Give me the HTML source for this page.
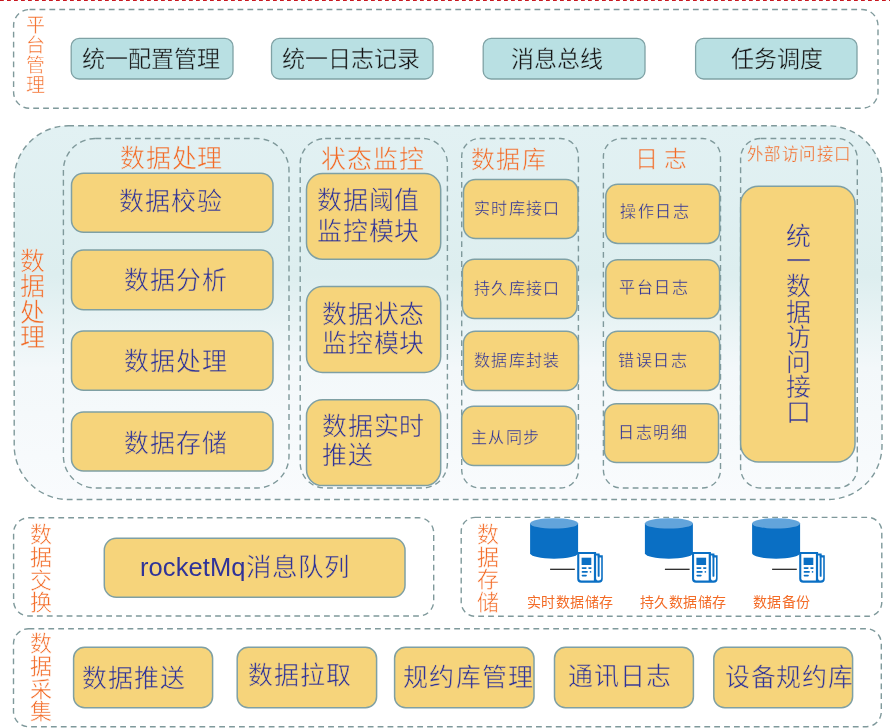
<!DOCTYPE html>
<html lang="zh-CN"><head><meta charset="utf-8"><title>architecture</title>
<style>
html,body{margin:0;padding:0;background:#fff;}
body{width:890px;height:728px;position:relative;overflow:hidden;font-family:"Liberation Sans",sans-serif;}
svg{position:absolute;left:0;top:0;}
.t{position:absolute;white-space:nowrap;will-change:transform;}
.v{text-align:center;}
</style></head><body>
<svg width="890" height="728" viewBox="0 0 890 728">
<defs><linearGradient id="g1" x1="0" y1="0" x2="0" y2="1">
<stop offset="0" stop-color="#e2f1f3"/><stop offset="0.4" stop-color="#ddeeef"/><stop offset="0.65" stop-color="#f3f8fa"/><stop offset="1" stop-color="#f9fbfd"/></linearGradient></defs>
<line x1="0" y1="0.55" x2="890" y2="0.55" stroke="#c8161f" stroke-width="1.1" stroke-dasharray="3.8 3.2"/>
<rect x="13.6" y="9.5" width="864.4" height="98.8" rx="16" fill="none" stroke="#7f999b" stroke-width="1.4" stroke-dasharray="5.8 4.1"/>
<rect x="71.2" y="38.4" width="161.8" height="40.6" rx="8" fill="#b9e0e3" stroke="#7fa2a5" stroke-width="1.3"/>
<rect x="271.5" y="38.4" width="161.5" height="40.6" rx="8" fill="#b9e0e3" stroke="#7fa2a5" stroke-width="1.3"/>
<rect x="483.2" y="38.4" width="161.8" height="40.6" rx="8" fill="#b9e0e3" stroke="#7fa2a5" stroke-width="1.3"/>
<rect x="695.6" y="38.4" width="161.39999999999998" height="40.6" rx="8" fill="#b9e0e3" stroke="#7fa2a5" stroke-width="1.3"/>
<rect x="14.2" y="125.8" width="867.8" height="373.7" rx="54" fill="url(#g1)" stroke="#7f999b" stroke-width="1.4" stroke-dasharray="5.8 4.1"/>
<rect x="63.4" y="138.5" width="225.6" height="349.5" rx="32" fill="none" stroke="#7f999b" stroke-width="1.4" stroke-dasharray="5.8 4.1"/>
<rect x="300.2" y="138.5" width="147.2" height="349.5" rx="25" fill="none" stroke="#7f999b" stroke-width="1.4" stroke-dasharray="5.8 4.1"/>
<rect x="461.7" y="138.5" width="116.69999999999999" height="349.5" rx="18" fill="none" stroke="#7f999b" stroke-width="1.4" stroke-dasharray="5.8 4.1"/>
<rect x="603.4" y="138.5" width="117.10000000000002" height="349.5" rx="18" fill="none" stroke="#7f999b" stroke-width="1.4" stroke-dasharray="5.8 4.1"/>
<rect x="740.6" y="138.5" width="116.69999999999993" height="349.5" rx="20" fill="none" stroke="#7f999b" stroke-width="1.4" stroke-dasharray="5.8 4.1"/>
<rect x="71.5" y="173.3" width="201.5" height="59.0" rx="12" fill="#f6d47b" stroke="#7fa0a4" stroke-width="1.5"/>
<rect x="71.5" y="250.1" width="201.5" height="59.70000000000002" rx="12" fill="#f6d47b" stroke="#7fa0a4" stroke-width="1.5"/>
<rect x="71.5" y="331" width="201.5" height="59.19999999999999" rx="12" fill="#f6d47b" stroke="#7fa0a4" stroke-width="1.5"/>
<rect x="71.5" y="412" width="201.5" height="59" rx="12" fill="#f6d47b" stroke="#7fa0a4" stroke-width="1.5"/>
<rect x="306.5" y="173.5" width="134.2" height="85.80000000000001" rx="16" fill="#f6d47b" stroke="#7fa0a4" stroke-width="1.5"/>
<rect x="306.5" y="286.5" width="134.2" height="85.89999999999998" rx="16" fill="#f6d47b" stroke="#7fa0a4" stroke-width="1.5"/>
<rect x="306.5" y="399.8" width="134.2" height="85.80000000000001" rx="16" fill="#f6d47b" stroke="#7fa0a4" stroke-width="1.5"/>
<rect x="463.5" y="179.6" width="114.5" height="59.0" rx="12" fill="#f6d47b" stroke="#7fa0a4" stroke-width="1.5"/>
<rect x="462.4" y="259.2" width="114.60000000000002" height="59.400000000000034" rx="12" fill="#f6d47b" stroke="#7fa0a4" stroke-width="1.5"/>
<rect x="463.4" y="331.3" width="115.0" height="59.19999999999999" rx="12" fill="#f6d47b" stroke="#7fa0a4" stroke-width="1.5"/>
<rect x="461.7" y="406.3" width="114.40000000000003" height="59.19999999999999" rx="12" fill="#f6d47b" stroke="#7fa0a4" stroke-width="1.5"/>
<rect x="605.8" y="184.2" width="113.80000000000007" height="59.20000000000002" rx="12" fill="#f6d47b" stroke="#7fa0a4" stroke-width="1.5"/>
<rect x="605.8" y="259.7" width="113.80000000000007" height="58.900000000000034" rx="12" fill="#f6d47b" stroke="#7fa0a4" stroke-width="1.5"/>
<rect x="605.8" y="331.3" width="113.80000000000007" height="59.099999999999966" rx="12" fill="#f6d47b" stroke="#7fa0a4" stroke-width="1.5"/>
<rect x="604.4" y="403.8" width="114.10000000000002" height="58.69999999999999" rx="12" fill="#f6d47b" stroke="#7fa0a4" stroke-width="1.5"/>
<rect x="740.6" y="186.3" width="114.39999999999998" height="275.7" rx="18" fill="#f6d47b" stroke="#7fa0a4" stroke-width="1.5"/>
<rect x="13.6" y="517.8" width="420.09999999999997" height="98.20000000000005" rx="15" fill="none" stroke="#7f999b" stroke-width="1.4" stroke-dasharray="5.8 4.1"/>
<rect x="104.3" y="538.3" width="300.7" height="58.90000000000009" rx="12" fill="#f6d47b" stroke="#7fa0a4" stroke-width="1.5"/>
<rect x="461.2" y="517.4" width="420.59999999999997" height="98.89999999999998" rx="14" fill="none" stroke="#7f999b" stroke-width="1.4" stroke-dasharray="5.8 4.1"/>
<rect x="13.5" y="628.7" width="867.8" height="98.0" rx="15" fill="none" stroke="#7f999b" stroke-width="1.4" stroke-dasharray="5.8 4.1"/>
<rect x="73.6" y="647.3" width="139.0" height="60.5" rx="11" fill="#f6d47b" stroke="#7fa0a4" stroke-width="1.5"/>
<rect x="237.2" y="647.3" width="139.40000000000003" height="60.5" rx="11" fill="#f6d47b" stroke="#7fa0a4" stroke-width="1.5"/>
<rect x="394.6" y="647.3" width="139.39999999999998" height="60.5" rx="11" fill="#f6d47b" stroke="#7fa0a4" stroke-width="1.5"/>
<rect x="554.5" y="647.3" width="138.89999999999998" height="60.5" rx="11" fill="#f6d47b" stroke="#7fa0a4" stroke-width="1.5"/>
<rect x="713.8" y="647.3" width="138.80000000000007" height="60.5" rx="11" fill="#f6d47b" stroke="#7fa0a4" stroke-width="1.5"/>
<g>
<path d="M530.1 523.5 L530.1 553.3 A24 5.4 0 0 0 578.1 553.3 L578.1 523.5 Z" fill="#0a6fc4"/>
<ellipse cx="554.1" cy="523.4" rx="24" ry="5.2" fill="#62a4db"/>
<line x1="550.10" y1="569.3" x2="574.80" y2="569.3" stroke="#1a1a1a" stroke-width="1.2"/>
<path d="M577.20 551.9 H596.10 V553.5 H599.60 V555.3 H602.80 V578.7 Q602.80 582.7 598.80 582.7 H581.20 Q577.20 582.7 577.20 578.7 Z" fill="#0a6fc4"/>
<path d="M579.30 554 H593.90 V580.6 H581.30 Q579.30 580.6 579.30 578.6 Z" fill="#fff"/>
<path d="M596.10 555.6 H597.70 V557.4 H601.20 V578.2 Q601.20 580.6 598.70 580.6 Q596.10 580.6 596.10 578.2 Z" fill="#fff"/>
<path d="M597.70 554.8 H599.60 V575.9 Q599.60 576.8 598.65 576.8 Q597.70 576.8 597.70 575.9 Z" fill="#0a6fc4"/>
<rect x="581.60" y="557.7" width="9.7" height="7.3" fill="#0a6fc4"/>
<g stroke="#0a6fc4" stroke-width="1.6" stroke-linecap="round">
<line x1="582.40" y1="568.1" x2="585.90" y2="568.1"/>
<line x1="589.00" y1="568.1" x2="590.90" y2="568.1"/>
<line x1="582.40" y1="571.9" x2="587.10" y2="571.9"/>
<line x1="590.50" y1="571.9" x2="590.60" y2="571.9"/>
<line x1="582.40" y1="575.6" x2="586.10" y2="575.6"/>
</g>
</g>
<g>
<path d="M644.9 523.5 L644.9 553.3 A24 5.4 0 0 0 692.9 553.3 L692.9 523.5 Z" fill="#0a6fc4"/>
<ellipse cx="668.9" cy="523.4" rx="24" ry="5.2" fill="#62a4db"/>
<line x1="664.90" y1="569.3" x2="689.60" y2="569.3" stroke="#1a1a1a" stroke-width="1.2"/>
<path d="M692.00 551.9 H710.90 V553.5 H714.40 V555.3 H717.60 V578.7 Q717.60 582.7 713.60 582.7 H696.00 Q692.00 582.7 692.00 578.7 Z" fill="#0a6fc4"/>
<path d="M694.10 554 H708.70 V580.6 H696.10 Q694.10 580.6 694.10 578.6 Z" fill="#fff"/>
<path d="M710.90 555.6 H712.50 V557.4 H716.00 V578.2 Q716.00 580.6 713.50 580.6 Q710.90 580.6 710.90 578.2 Z" fill="#fff"/>
<path d="M712.50 554.8 H714.40 V575.9 Q714.40 576.8 713.45 576.8 Q712.50 576.8 712.50 575.9 Z" fill="#0a6fc4"/>
<rect x="696.40" y="557.7" width="9.7" height="7.3" fill="#0a6fc4"/>
<g stroke="#0a6fc4" stroke-width="1.6" stroke-linecap="round">
<line x1="697.20" y1="568.1" x2="700.70" y2="568.1"/>
<line x1="703.80" y1="568.1" x2="705.70" y2="568.1"/>
<line x1="697.20" y1="571.9" x2="701.90" y2="571.9"/>
<line x1="705.30" y1="571.9" x2="705.40" y2="571.9"/>
<line x1="697.20" y1="575.6" x2="700.90" y2="575.6"/>
</g>
</g>
<g>
<path d="M752.1 523.5 L752.1 553.3 A24 5.4 0 0 0 800.1 553.3 L800.1 523.5 Z" fill="#0a6fc4"/>
<ellipse cx="776.1" cy="523.4" rx="24" ry="5.2" fill="#62a4db"/>
<line x1="772.10" y1="569.3" x2="796.80" y2="569.3" stroke="#1a1a1a" stroke-width="1.2"/>
<path d="M799.20 551.9 H818.10 V553.5 H821.60 V555.3 H824.80 V578.7 Q824.80 582.7 820.80 582.7 H803.20 Q799.20 582.7 799.20 578.7 Z" fill="#0a6fc4"/>
<path d="M801.30 554 H815.90 V580.6 H803.30 Q801.30 580.6 801.30 578.6 Z" fill="#fff"/>
<path d="M818.10 555.6 H819.70 V557.4 H823.20 V578.2 Q823.20 580.6 820.70 580.6 Q818.10 580.6 818.10 578.2 Z" fill="#fff"/>
<path d="M819.70 554.8 H821.60 V575.9 Q821.60 576.8 820.65 576.8 Q819.70 576.8 819.70 575.9 Z" fill="#0a6fc4"/>
<rect x="803.60" y="557.7" width="9.7" height="7.3" fill="#0a6fc4"/>
<g stroke="#0a6fc4" stroke-width="1.6" stroke-linecap="round">
<line x1="804.40" y1="568.1" x2="807.90" y2="568.1"/>
<line x1="811.00" y1="568.1" x2="812.90" y2="568.1"/>
<line x1="804.40" y1="571.9" x2="809.10" y2="571.9"/>
<line x1="812.50" y1="571.9" x2="812.60" y2="571.9"/>
<line x1="804.40" y1="575.6" x2="808.10" y2="575.6"/>
</g>
</g>
</svg>
<div class="t v" style="left:26px;top:15.6px;font-size:19px;line-height:19.95px;color:#f36b26;width:19px;-webkit-text-stroke:0.5px #fff;">平<br>台<br>管<br>理</div>
<div class="t" style="left:82px;top:48px;font-size:23px;line-height:23px;color:#151515;letter-spacing:0px;-webkit-text-stroke:0.35px #b9e0e3;">统一配置管理</div>
<div class="t" style="left:282px;top:48px;font-size:23px;line-height:23px;color:#151515;letter-spacing:0px;-webkit-text-stroke:0.35px #b9e0e3;">统一日志记录</div>
<div class="t" style="left:511px;top:48px;font-size:23px;line-height:23px;color:#151515;letter-spacing:0px;-webkit-text-stroke:0.35px #b9e0e3;">消息总线</div>
<div class="t" style="left:731px;top:48px;font-size:23px;line-height:23px;color:#151515;letter-spacing:0px;-webkit-text-stroke:0.35px #b9e0e3;">任务调度</div>
<div class="t v" style="left:20.3px;top:249.2px;font-size:25px;line-height:25.3px;color:#f36b26;width:25px;-webkit-text-stroke:0.5px #e6f2f4;">数<br>据<br>处<br>理</div>
<div class="t" style="left:120px;top:145.5px;font-size:25px;line-height:25px;color:#f36b26;letter-spacing:0.8px;-webkit-text-stroke:0.5px #e1f0f2;">数据处理</div>
<div class="t" style="left:321px;top:146.8px;font-size:25px;line-height:25px;color:#f36b26;letter-spacing:1px;-webkit-text-stroke:0.5px #e1f0f2;">状态监控</div>
<div class="t" style="left:471px;top:148.3px;font-size:24px;line-height:24px;color:#f36b26;letter-spacing:1.45px;-webkit-text-stroke:0.5px #e1f0f2;">数据库</div>
<div class="t" style="left:634.7px;top:148.4px;font-size:23px;line-height:23px;color:#f36b26;letter-spacing:0px;-webkit-text-stroke:0.5px #e1f0f2;">日 志</div>
<div class="t" style="left:747px;top:146px;font-size:16.5px;line-height:16.5px;color:#f36b26;letter-spacing:0.4px;-webkit-text-stroke:0.3px #e1f0f2;">外部访问接口</div>
<div class="t" style="left:119.2px;top:189px;font-size:25px;line-height:25px;color:#2f3399;letter-spacing:1.1px;-webkit-text-stroke:0.5px #f6d47b;">数据校验</div>
<div class="t" style="left:124.2px;top:268px;font-size:25px;line-height:25px;color:#2f3399;letter-spacing:1.1px;-webkit-text-stroke:0.5px #f6d47b;">数据分析</div>
<div class="t" style="left:124.2px;top:349px;font-size:25px;line-height:25px;color:#2f3399;letter-spacing:1.1px;-webkit-text-stroke:0.5px #f6d47b;">数据处理</div>
<div class="t" style="left:124.2px;top:431px;font-size:25px;line-height:25px;color:#2f3399;letter-spacing:1.1px;-webkit-text-stroke:0.5px #f6d47b;">数据存储</div>
<div class="t" style="left:317px;top:184.5px;font-size:25px;line-height:31px;color:#2f3399;letter-spacing:0.8px;-webkit-text-stroke:0.5px #f6d47b;">数据阈值<br>监控模块</div>
<div class="t" style="left:321.5px;top:299.5px;font-size:25px;line-height:29.2px;color:#2f3399;letter-spacing:0.8px;-webkit-text-stroke:0.5px #f6d47b;">数据状态<br>监控模块</div>
<div class="t" style="left:321.5px;top:411.6px;font-size:25px;line-height:29.2px;color:#2f3399;letter-spacing:0.8px;-webkit-text-stroke:0.5px #f6d47b;">数据实时<br>推送</div>
<div class="t" style="left:473.5px;top:200.5px;font-size:16px;line-height:16px;color:#2f3399;letter-spacing:1.3px;-webkit-text-stroke:0.3px #f6d47b;">实时库接口</div>
<div class="t" style="left:473.5px;top:280.5px;font-size:16px;line-height:16px;color:#2f3399;letter-spacing:1.3px;-webkit-text-stroke:0.3px #f6d47b;">持久库接口</div>
<div class="t" style="left:473.5px;top:352.5px;font-size:16px;line-height:16px;color:#2f3399;letter-spacing:1.3px;-webkit-text-stroke:0.3px #f6d47b;">数据库封装</div>
<div class="t" style="left:470.5px;top:429.5px;font-size:16px;line-height:16px;color:#2f3399;letter-spacing:1.3px;-webkit-text-stroke:0.3px #f6d47b;">主从同步</div>
<div class="t" style="left:620px;top:204px;font-size:16px;line-height:16px;color:#2f3399;letter-spacing:1.5px;-webkit-text-stroke:0.3px #f6d47b;">操作日志</div>
<div class="t" style="left:619px;top:280.3px;font-size:16px;line-height:16px;color:#2f3399;letter-spacing:1.5px;-webkit-text-stroke:0.3px #f6d47b;">平台日志</div>
<div class="t" style="left:618px;top:352.5px;font-size:16px;line-height:16px;color:#2f3399;letter-spacing:1.5px;-webkit-text-stroke:0.3px #f6d47b;">错误日志</div>
<div class="t" style="left:618.3px;top:424.5px;font-size:16px;line-height:16px;color:#2f3399;letter-spacing:1.5px;-webkit-text-stroke:0.3px #f6d47b;">日志明细</div>
<div class="t v" style="left:785.5px;top:224.4px;font-size:25px;line-height:25.17px;color:#2f3399;width:25px;-webkit-text-stroke:0.5px #f6d47b;">统<br>一<br>数<br>据<br>访<br>问<br>接<br>口</div>
<div class="t v" style="left:30.4px;top:523.6px;font-size:22px;line-height:22.77px;color:#f36b26;width:22px;-webkit-text-stroke:0.5px #fff;">数<br>据<br>交<br>换</div>
<div class="t" style="left:139.5px;top:555px;font-size:25.5px;line-height:25.5px;color:#2f3399;letter-spacing:0.08px;">rocketMq<span style="-webkit-text-stroke:0.5px #f6d47b">消息队列</span></div>
<div class="t v" style="left:477.2px;top:523.9px;font-size:22px;line-height:22.5px;color:#f36b26;width:22px;-webkit-text-stroke:0.5px #fff;">数<br>据<br>存<br>储</div>
<div class="t" style="left:527px;top:594.9px;font-size:14px;line-height:14px;color:#f36b26;letter-spacing:0.4px;">实时数据储存</div>
<div class="t" style="left:640px;top:594.9px;font-size:14px;line-height:14px;color:#f36b26;letter-spacing:0.4px;">持久数据储存</div>
<div class="t" style="left:753px;top:594.9px;font-size:14px;line-height:14px;color:#f36b26;letter-spacing:0.4px;">数据备份</div>
<div class="t v" style="left:30.4px;top:632.6px;font-size:22px;line-height:22.75px;color:#f36b26;width:22px;-webkit-text-stroke:0.5px #fff;">数<br>据<br>采<br>集</div>
<div class="t" style="left:82px;top:665.6px;font-size:25px;line-height:25px;color:#2f3399;letter-spacing:1.1px;-webkit-text-stroke:0.5px #f6d47b;">数据推送</div>
<div class="t" style="left:248px;top:663px;font-size:25px;line-height:25px;color:#2f3399;letter-spacing:1.1px;-webkit-text-stroke:0.5px #f6d47b;">数据拉取</div>
<div class="t" style="left:403px;top:665px;font-size:25px;line-height:25px;color:#2f3399;letter-spacing:1.3px;-webkit-text-stroke:0.5px #f6d47b;">规约库管理</div>
<div class="t" style="left:568px;top:664.3px;font-size:25px;line-height:25px;color:#2f3399;letter-spacing:1.1px;-webkit-text-stroke:0.5px #f6d47b;">通讯日志</div>
<div class="t" style="left:725px;top:664.7px;font-size:25px;line-height:25px;color:#2f3399;letter-spacing:0.7px;-webkit-text-stroke:0.5px #f6d47b;">设备规约库</div>
</body></html>
